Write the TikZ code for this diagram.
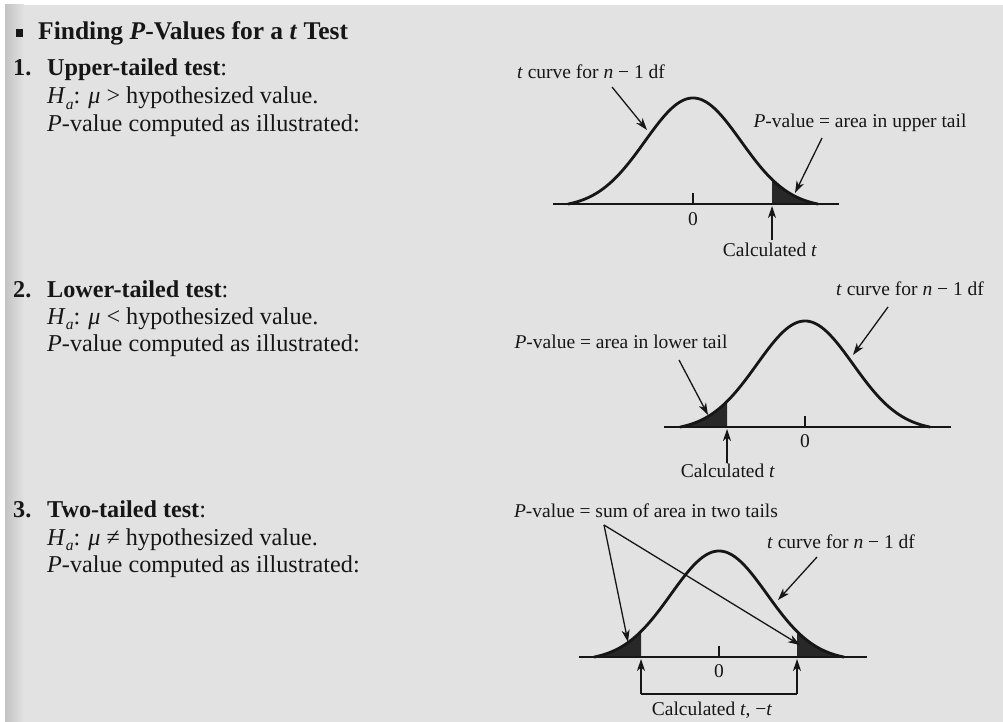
\documentclass[tikz,border=0pt]{standalone}
\usepackage{fontspec}
\setmainfont{Liberation Serif}
\usetikzlibrary{arrows.meta}
\definecolor{page}{RGB}{226,226,226}
\definecolor{gutter}{RGB}{195,195,195}
\definecolor{ink}{RGB}{22,22,22}
\definecolor{tailc}{RGB}{40,40,40}
\newcommand{\HaSym}{\textit{H}\raisebox{-0.22em}{\fontsize{15.5}{15.5}\selectfont\textit{a}}}
\tikzset{
  curve/.style={line width=2.8pt, draw=ink, line join=round},
  axisline/.style={line width=2.6pt, draw=ink},
  tailfill/.style={fill=tailc},
  ptr/.style={line width=1.3pt, draw=ink, -{Stealth[length=12pt,width=8pt,inset=3.5pt]}},
  thin/.style={line width=1.3pt, draw=ink},
  body/.style={inner sep=0pt, anchor=base west, text=ink, font=\fontsize{24.2}{29}\selectfont},
  headtxt/.style={inner sep=0pt, anchor=base west, text=ink, font=\fontsize{25.5}{30}\selectfont\bfseries},
  lbl/.style={inner sep=0pt, anchor=base, text=ink, font=\fontsize{19.5}{23}\selectfont},
}
\begin{document}
\begin{tikzpicture}[x=1pt,y=-1pt,
  declare function={tc(\u)=106*(exp(-0.5*(\u/48)^2)-0.034)/0.966;}]
\useasboundingbox (0,0) rectangle (1003,722);
\fill[white] (0,0) rectangle (1003,722);
\fill[page] (5,5) rectangle (1003,722);
\shade[left color=gutter, right color=page] (5,5) rectangle (24,722);

% ---------------- left column text ----------------
\node[fill=ink, minimum width=7pt, minimum height=8pt, inner sep=0pt] (bul) at (19.5,33) {};
\node[headtxt] (head) at (38,40) {Finding \textit{P}-Values for a \textit{t} Test};

\node[body] (n1) at (13,76) {\textbf{1.}};
\node[body] (u1) at (47,76) {\textbf{Upper-tailed test}:};
\node[body] (h1) at (47,104) {\HaSym: \textit{μ} > hypothesized value.};
\node[body] (p1) at (47,132) {\textit{P}-value computed as illustrated:};

\node[body] (n2) at (13,297) {\textbf{2.}};
\node[body] (u2) at (47,297) {\textbf{Lower-tailed test}:};
\node[body] (h2) at (47,324) {\HaSym: \textit{μ} < hypothesized value.};
\node[body] (p2) at (47,351) {\textit{P}-value computed as illustrated:};

\node[body] (n3) at (13,517) {\textbf{3.}};
\node[body] (u3) at (47,517) {\textbf{Two-tailed test}:};
\node[body] (h3) at (47,545) {\HaSym: \textit{μ} ≠ hypothesized value.};
\node[body] (p3) at (47,572) {\textit{P}-value computed as illustrated:};

% ---------------- panel 1: upper tail ----------------
\coordinate (a1l) at (553,204); \coordinate (a1r) at (839,204);
\coordinate (k1b) at (693,204); \coordinate (k1t) at (693,193);
\fill[tailfill] (772,204) -- plot[domain=79:125,samples=30] ({693+\x},{204-tc(\x)}) -- cycle;
\draw[curve] plot[domain=-125:125,samples=121,smooth] ({693+\x},{204-tc(\x)});
\draw[axisline] (a1l) -- (a1r);
\draw[thin] (k1b) -- (k1t);
\node[lbl] (z1) at (693,225) {0};
\node[lbl] (tc1) at (591,79) {\textit{t} curve for \textit{n} − 1 df};
\node[lbl] (pv1) at (860,128) {\textit{P}-value = area in upper tail};
\node[lbl] (ct1) at (770,256) {Calculated \textit{t}};
\coordinate (tc1s) at (612,87);  \coordinate (tc1e) at (647,130);
\coordinate (pv1s) at (822,138); \coordinate (pv1e) at (795,193);
\coordinate (ct1s) at (772,240); \coordinate (ct1e) at (772,206);
\draw[ptr] (tc1s) -- (tc1e);
\draw[ptr] (pv1s) -- (pv1e);
\draw[ptr] (ct1s) -- (ct1e);

% ---------------- panel 2: lower tail ----------------
\coordinate (a2l) at (664,427); \coordinate (a2r) at (951,427);
\coordinate (k2b) at (805,427); \coordinate (k2t) at (805,416);
\fill[tailfill] plot[domain=-125:-78,samples=30] ({805+\x},{427-tc(\x)}) -- (727,427) -- cycle;
\draw[curve] plot[domain=-125:125,samples=121,smooth] ({805+\x},{427-tc(\x)});
\draw[axisline] (a2l) -- (a2r);
\draw[thin] (k2b) -- (k2t);
\node[lbl] (z2) at (805,447) {0};
\node[lbl] (pv2) at (621,348) {\textit{P}-value = area in lower tail};
\node[lbl] (tc2) at (910,295) {\textit{t} curve for \textit{n} − 1 df};
\node[lbl] (ct2) at (728,477) {Calculated \textit{t}};
\coordinate (pv2s) at (679,360); \coordinate (pv2e) at (708,415);
\coordinate (tc2s) at (888,307); \coordinate (tc2e) at (853,355);
\coordinate (ct2s) at (727,463); \coordinate (ct2e) at (727,429);
\draw[ptr] (pv2s) -- (pv2e);
\draw[ptr] (tc2s) -- (tc2e);
\draw[ptr] (ct2s) -- (ct2e);

% ---------------- panel 3: two tails ----------------
\coordinate (a3l) at (579,657); \coordinate (a3r) at (867,657);
\coordinate (k3b) at (719,657); \coordinate (k3t) at (719,646);
\fill[tailfill] plot[domain=-125:-78,samples=30] ({719+\x},{657-tc(\x)}) -- (641,657) -- cycle;
\fill[tailfill] (797,657) -- plot[domain=78:125,samples=30] ({719+\x},{657-tc(\x)}) -- cycle;
\draw[curve] plot[domain=-125:125,samples=121,smooth] ({719+\x},{657-tc(\x)});
\draw[axisline] (a3l) -- (a3r);
\draw[thin] (k3b) -- (k3t);
\node[lbl] (z3) at (719,677) {0};
\node[lbl] (pv3) at (646,517) {\textit{P}-value = sum of area in two tails};
\node[lbl] (tc3) at (841,548) {\textit{t} curve for \textit{n} − 1 df};
\node[lbl] (ct3) at (712,715) {Calculated \textit{t}, −\textit{t}};
\coordinate (pv3s) at (604,525);
\coordinate (pv3l) at (628,642); \coordinate (pv3r) at (800,645);
\coordinate (tc3s) at (817,557); \coordinate (tc3e) at (778,600);
\coordinate (bl) at (641,694); \coordinate (br) at (797,694);
\coordinate (blt) at (641,659); \coordinate (brt) at (797,659);
\draw[ptr] (pv3s) -- (pv3l);
\draw[ptr] (pv3s) -- (pv3r);
\draw[ptr] (tc3s) -- (tc3e);
\draw[ptr] (bl) -- (blt);
\draw[ptr] (br) -- (brt);
\draw[thin] (bl) -- (br);
\end{tikzpicture}
\end{document}
